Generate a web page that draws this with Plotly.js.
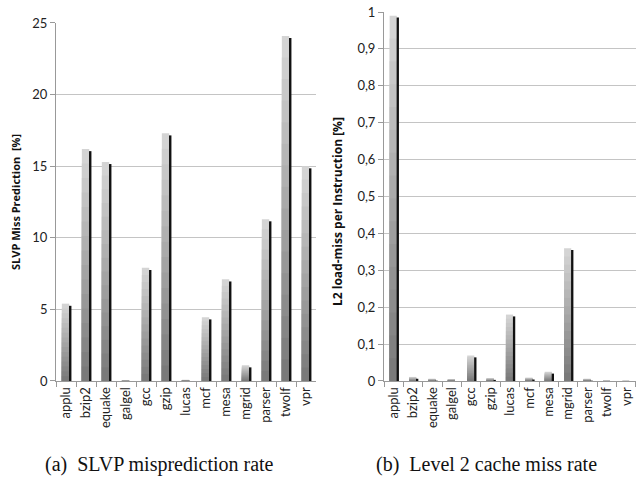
<!DOCTYPE html>
<html>
<head>
<meta charset="utf-8">
<script src="https://cdn.plot.ly/plotly-3.0.1.min.js"></script>
<style>html,body{margin:0;padding:0;background:#fff;}#chart{width:636px;height:477px;}</style>
</head>
<body>
<div id="chart"></div>
<script>
// ---- data ----
const benchmarks = ["applu","bzip2","equake","galgel","gcc","gzip","lucas","mcf","mesa","mgrid","parser","twolf","vpr"];
const slvpMissRate = [5.4, 16.2, 15.3, 0.03, 7.9, 17.3, 0.08, 4.45, 7.1, 1.1, 11.3, 24.1, 15.0];
const l2MissRate = [0.99, 0.011, 0.006, 0.005, 0.069, 0.008, 0.18, 0.009, 0.025, 0.36, 0.006, 0.0005, 0.0003];
const slvpTicks = [0, 5, 10, 15, 20, 25];
const l2Ticks = [0, 0.1, 0.2, 0.3, 0.4, 0.5, 0.6, 0.7, 0.8, 0.9, 1];

// ---- styling helpers ----
const N = 16; // gradient layers per bar
function layerColor(k) {
  // k = 0 bottom (dark) .. N-1 top (light)
  const t = k / (N - 1);
  const c = Math.round(0x7a + (0xd4 - 0x7a) * t);
  return `rgb(${c},${c},${c})`;
}

function barTraces(vals, xa, ya, shadowDrop) {
  const traces = [];
  // draw tallest (lightest) first, then progressively shorter darker layers on top
  for (let k = N - 1; k >= 0; k--) {
    traces.push({
      type: "bar", x: benchmarks,
      y: vals.map(v => v * (k + 1) / N),
      offset: -0.21, width: 0.37,
      marker: {color: layerColor(k), line: {width: 0}},
      xaxis: xa, yaxis: ya, hoverinfo: "skip", showlegend: false
    });
  }
  traces.push({
    type: "bar", x: benchmarks,
    y: vals.map(v => Math.max(0, v - shadowDrop)),
    offset: 0.15, width: 0.12,
    marker: {color: "#111", line: {width: 0}},
    xaxis: xa, yaxis: ya, hoverinfo: "skip", showlegend: false
  });
  return traces;
}

const data = [
  ...barTraces(slvpMissRate, "x", "y", 0.15),
  ...barTraces(l2MissRate, "x2", "y2", 0.005)
];

const tickFont = {family: "Lato, 'DejaVu Sans', sans-serif", size: 13, color: "#222"};
const xCommon = {
  type: "category", tickson: "boundaries", ticks: "outside", ticklen: 5, tickcolor: "#999",
  showline: true, linecolor: "#999", linewidth: 1, showgrid: false,
  tickangle: -90, tickfont: tickFont, fixedrange: true
};
const yCommon = {
  ticks: "outside", ticklen: 5, tickcolor: "#999", showline: true, linecolor: "#999",
  showgrid: true, gridcolor: "#c4c4c4", gridwidth: 1, zeroline: false,
  tickfont: tickFont, fixedrange: true
};

const titleFontA = {family: "'Open Sans', Lato, 'DejaVu Sans', sans-serif", size: 11, color: "#111", weight: "bold"};
const titleFontB = {family: "'Open Sans', Lato, 'DejaVu Sans', sans-serif", size: 12, color: "#111", weight: "bold"};
const capFont = {family: "'Liberation Serif', 'DejaVu Serif', serif", size: 20, color: "#111"};

const layout = {
  width: 636, height: 477,
  margin: {l: 0, r: 0, t: 0, b: 0},
  paper_bgcolor: "#fff", plot_bgcolor: "#fff",
  barmode: "overlay",
  separators: ",.",
  showlegend: false,
  xaxis: Object.assign({}, xCommon, {domain: [0.0881, 0.4969], anchor: "y"}),
  yaxis: Object.assign({}, yCommon, {domain: [0.2013, 0.9518], range: [0, 25], tickvals: slvpTicks, anchor: "x"}),
  xaxis2: Object.assign({}, xCommon, {domain: [0.6038, 1.0], anchor: "y2"}),
  yaxis2: Object.assign({}, yCommon, {domain: [0.2013, 0.9748], range: [0, 1], tickvals: l2Ticks, anchor: "x2"}),
  annotations: [
    {text: "<b>SLVP Miss Prediction  [%]</b>", textangle: -90, xref: "paper", yref: "paper",
     x: 15 / 636, y: 1 - 202 / 477, xanchor: "center", yanchor: "middle", showarrow: false, font: titleFontA},
    {text: "<b>L2 load-miss per Instruction [%]</b>", textangle: -90, xref: "paper", yref: "paper",
     x: 337 / 636, y: 1 - 212 / 477, xanchor: "center", yanchor: "middle", showarrow: false, font: titleFontB},
    {text: "(a)  SLVP misprediction rate", xref: "paper", yref: "paper",
     x: 159 / 636, y: 1 - 464 / 477, xanchor: "center", yanchor: "middle", showarrow: false, font: capFont},
    {text: "(b)  Level 2 cache miss rate", xref: "paper", yref: "paper",
     x: 486 / 636, y: 1 - 464 / 477, xanchor: "center", yanchor: "middle", showarrow: false, font: capFont}
  ]
};

Plotly.newPlot("chart", data, layout, {staticPlot: true, displayModeBar: false});
</script>
</body>
</html>
